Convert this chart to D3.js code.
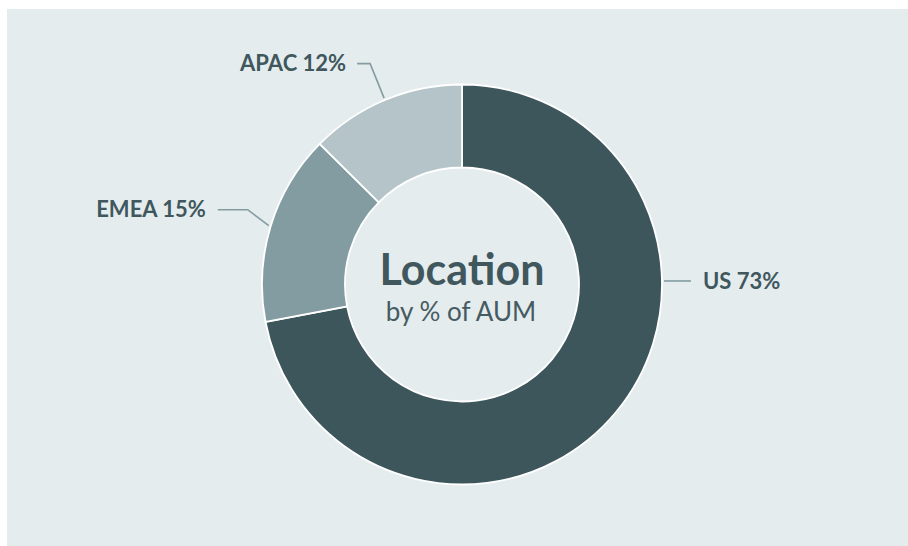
<!DOCTYPE html>
<html>
<head>
<meta charset="utf-8">
<title>Location by % of AUM</title>
<script src="https://cdn.jsdelivr.net/npm/d3@7"></script>
<style>
  body { margin: 0; background: #fff; }
  text { font-variant-ligatures: none; font-feature-settings: "liga" 0, "clig" 0, "dlig" 0; }
  .label { font: bold 22px Lato, "Open Sans", sans-serif; fill: #3f575d; }
  .title { font: bold 43px Lato, "Open Sans", sans-serif; fill: #3f575d; text-anchor: middle; }
  .subtitle { font: 26px Lato, "Open Sans", sans-serif; fill: #465b61; text-anchor: middle; }
  .leader { fill: none; stroke: #839ca2; stroke-width: 1.6px; }
</style>
</head>
<body>
<script>
// data
var regions = ["US", "EMEA", "APAC"];
var shares = [72, 15.4, 12.6];          // slice sizes
var shareLabels = ["73%", "15%", "12%"]; // printed labels
var colors = ["#3d565c", "#839ca2", "#b5c4c8"];

var width = 908, height = 546;
var cx = 462, cy = 284.5, outerR = 200, innerR = 117;

// leader layout per slice: angle (null = mid angle), elbow offset, horizontal run, text gap
var labelLayout = [
  { angle: 89 * Math.PI / 180, elbow: [0, 0], run: 27, gap: 12 },
  { angle: null, elbow: [-21, -16], run: -30, gap: -12 },
  { angle: null, elbow: [-14, -34.5], run: -13, gap: -11 }
];

var svg = d3.select("body").append("svg")
    .attr("width", width)
    .attr("height", height);

svg.append("rect")
    .attr("x", 7).attr("y", 9)
    .attr("width", width - 7).attr("height", height - 9)
    .attr("fill", "#e4ecee");

var g = svg.append("g")
    .attr("transform", "translate(" + cx + "," + cy + ")");

var pie = d3.pie().sort(null).value(function(d) { return d; });
var arcs = pie(shares);

var arc = d3.arc().innerRadius(innerR).outerRadius(outerR);

g.selectAll("path.slice")
  .data(arcs)
  .enter().append("path")
    .attr("class", "slice")
    .attr("d", arc)
    .attr("fill", function(d, i) { return colors[i]; })
    .attr("stroke", "#fff")
    .attr("stroke-width", 1.8);

// leader lines + labels
arcs.forEach(function(d, i) {
  var lay = labelLayout[i];
  var a = lay.angle == null ? (d.startAngle + d.endAngle) / 2 : lay.angle;
  var r = outerR + 2;
  var p0 = [Math.sin(a) * r, -Math.cos(a) * r];
  var p1 = [p0[0] + lay.elbow[0], p0[1] + lay.elbow[1]];
  var p2 = [p1[0] + lay.run, p1[1]];

  g.append("path")
    .attr("class", "leader")
    .attr("d", d3.line()([p0, p1, p2]));

  g.append("text")
    .attr("class", "label")
    .attr("x", p2[0] + lay.gap)
    .attr("y", p2[1])
    .attr("dy", "0.35em")
    .attr("text-anchor", lay.gap < 0 ? "end" : "start")
    .text(regions[i] + " " + shareLabels[i]);
});

// centre text
g.append("text").attr("class", "title")
    .attr("x", 0).attr("y", 0.5)
    .text("Location");
g.append("text").attr("class", "subtitle")
    .attr("x", -1).attr("y", 36.5)
    .text("by % of AUM");
</script>
</body>
</html>
